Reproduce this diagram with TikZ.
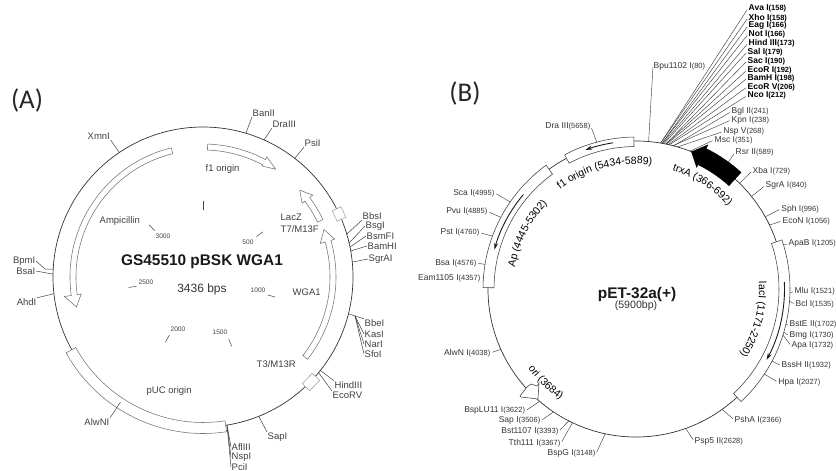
\documentclass[tikz,border=0pt]{standalone}
\usepackage{fontspec}
\setmainfont{Liberation Sans}
\newfontfamily\panelfont{Carlito}
\usetikzlibrary{arrows.meta,decorations.text}

\newcommand{\bpnum}[1]{{\fontsize{7.5}{9}\selectfont(#1)}}
\newcommand{\ringband}[5]{\draw[#1] (#2:#4) arc[start angle=#2,end angle=#3,radius=#4] -- (#3:#5)
  arc[start angle=#3,end angle=#2,radius=#5] -- cycle;}
\newcommand{\ringarrow}[8]{\draw[#1] (#2:#5) arc[start angle=#2,end angle=#3,radius=#5] -- (#3:#7)
  -- (#4:{(#5+#6)/2}) -- (#3:#8) -- (#3:#6) arc[start angle=#3,end angle=#2,radius=#6] -- cycle;}

\begin{document}
\begin{tikzpicture}[
  x=1pt, y=-1pt,
  ringA/.style={shift={(203,277)}, y=1pt},
  ringB/.style={shift={(636,289)}, y=1pt},
  panel/.style={font=\panelfont\fontsize{27}{30}\selectfont, text=black!85},
  title/.style={font=\bfseries\fontsize{15.4}{18}\selectfont, text=black!90},
  sizelab/.style={font=\fontsize{12}{14}\selectfont, text=black!80},
  feat/.style={font=\fontsize{9.5}{11}\selectfont, text=black!75, inner sep=0.5pt},
  sitelab/.style={font=\fontsize{9.5}{11}\selectfont, text=black!75, inner sep=0.5pt},
  sitelabB/.style={font=\fontsize{8.5}{10}\selectfont, text=black!80, inner sep=0.5pt},
  boldlab/.style={font=\bfseries\fontsize{8.5}{10}\selectfont, text=black, inner sep=0.5pt},
  numlab/.style={font=\fontsize{6.6}{8}\selectfont, text=black!75},
  leader/.style={draw=black!75, line width=0.5pt},
  leaderB/.style={draw=black!75, line width=0.45pt, shorten >=1.5pt},
  tick/.style={draw=black!75, line width=0.5pt},
  ring/.style={draw=black!80, line width=0.7pt},
  band/.style={draw=black!55, fill=white, line width=0.55pt},
  bandB/.style={draw=black!75, fill=white, line width=0.55pt},
  gate/.style={draw=black!35, fill=white, line width=0.6pt, inner sep=0pt},
  inarr/.style={-{Stealth[length=7pt,width=4pt]}, line width=0.9pt, draw=black!90}
]
\useasboundingbox (0,0) rectangle (836,471);

%% ── Panel letters ──────────────────────────────────────────────
\node[panel] (panelA) at (27,100) {(A)};
\node[panel] (panelB) at (465,93) {(B)};

%% ── Plasmid A ──────────────────────────────────────────────────
\draw[ring, ringA] (0,0) circle[radius=150];

\ringarrow{band, ringA}{103.8}{188}{193.3}{127}{133}{123}{140}
\ringarrow{band, ringA}{88}{62}{56}{127}{133}{125.7}{136}
\ringarrow{band, ringA}{25.6}{36.7}{41.9}{127}{133}{123.6}{137}
\ringarrow{band, ringA}{-38.2}{16}{21.4}{127}{133}{122}{137}
\ringband{band, ringA}{209}{278.7}{145.5}{156.5}

\node[gate, rotate=25, minimum width=9.7pt, minimum height=11.5pt] (gateF) at (339,214) {};
\node[gate, rotate=-44, minimum width=10.3pt, minimum height=14.4pt] (gateR) at (311,382) {};

\node[title] (nameA) at (202,262) {GS45510 pBSK WGA1};
\node[sizelab] (sizeA) at (202,289) {3436 bps};

\node[feat, anchor=west] (ampA) at (99,221) {Ampicillin};
\node[feat, anchor=west] (f1A) at (205,169) {f1 origin};
\node[feat, anchor=west] (lacA) at (280,217) {LacZ};
\node[feat, anchor=west] (t7A) at (280,229) {T7/M13F};
\node[feat, anchor=west] (wgaA) at (292,292) {WGA1};
\node[feat, anchor=west] (t3A) at (256,364) {T3/M13R};
\node[feat, anchor=west] (pucA) at (146,391) {pUC origin};

% scale marks
\foreach \ang/\num/\lx/\ly in {136/3000/163/236, 188/2500/146/282, 240/2000/178/329,
                               -67.5/1500/220/332, -15.5/1000/258/290, 37/500/248/242}{
  \node[numlab] (n\num) at (\lx,\ly) {\num};
  \draw[tick, ringA] (\ang:67) -- (\ang:75);
}
\draw[tick, ringA] (90:67) -- (90:76);

% sites of A
\foreach \id/\txt/\lx/\ly/\anc/\att/\ang in {
  xmn/XmnI/87/136/west/south east/123.9,
  ban/BanII/252/113/west/south west/73.4,
  dra/DraIII/272/124/west/south west/66,
  psi/PsiI/304/143/west/south west/52.3,
  bbs/BbsI/362/216/west/south west/16.6,
  bsg/BsgI/365/226/west/west/13.1,
  bsm/BsmFI/366/236/west/west/11.5,
  bam/BamHI/367/246/west/west/10,
  sgr/SgrAI/368/259/west/west/5.7,
  bbe/BbeI/364/323/west/north west/-14.2,
  hin/HindIII/334/385/west/north west/-38.5,
  eco/EcoRV/332/395/west/north west/-39.6,
  sap/SapI/267/437/west/north west/-68.2,
  afl/AflIII/231/447/west/west/-80.8,
  bsa/BsaI/36/271/east/east/178.9,
  ahd/AhdI/37/302/east/north east/186.4,
  alw/AlwNI/110/422/east/north east/236.6}{
  \node[sitelab, anchor=\anc] (\id) at (\lx,\ly) {\txt};
  \path[ringA] (\ang:150) coordinate (s\id);
  \draw[leader] (s\id) -- (\id.\att);
}
\node[sitelab, anchor=west] (kas) at (364,334) {KasI};
\node[sitelab, anchor=west] (nar) at (364,344) {NarI};
\node[sitelab, anchor=west] (sfo) at (364,354) {SfoI};
\coordinate (fanE) at (355,316);
\draw[leader] (fanE) -- (kas.west);
\draw[leader] (fanE) -- (nar.west);
\draw[leader] (fanE) -- (sfo.west);
\node[sitelab, anchor=west] (nsp) at (231,457) {NspI};
\node[sitelab, anchor=west] (pci) at (231,467) {PciI};
\draw[leader] (safl) -- (nsp.west);
\draw[leader] (safl) -- (pci.west);
\node[sitelab, anchor=east] (bpm) at (36,261) {BpmI};
\coordinate (bpmE) at (45,269);
\path[ringA] (177:150) coordinate (sbpm);
\draw[leader] (sbpm) -- (bpmE) -- (bpm.east);

%% ── Plasmid B ──────────────────────────────────────────────────
\draw[ring, ringB] (0,0) circle[radius=148];

\foreach \id/\txt/\lx/\ly/\ang in {
  ava/Ava I\bpnum{158}/748/8.5/80.4,
  xho/Xho I\bpnum{158}/748/17.7/80.4,
  eag/Eag I\bpnum{166}/748/25.7/79.9,
  not/Not I\bpnum{166}/748/34.3/79.9,
  hnd/Hind III\bpnum{173}/748/43.3/79.5,
  sal/Sal I\bpnum{179}/747/52/79.1,
  sac/Sac I\bpnum{190}/747/61/78.4,
  ecr/EcoR I\bpnum{192}/747/70/78.3,
  bmh/BamH I\bpnum{198}/747/78.3/78.1,
  ecv/EcoR V\bpnum{206}/747/87/77.4,
  nco/Nco I\bpnum{212}/747/95.7/77}{
  \node[boldlab, anchor=west] (\id) at (\lx,\ly) {\txt};
  \path[ringB] (\ang:148) coordinate (s\id);
  \draw[leaderB] (s\id) -- (\id.west);
}

\foreach \id/\txt/\lx/\ly/\anc/\ang in {
  bpu/Bpu1102 I\bpnum{80}/653/66/west/85.1,
  bgl/Bgl II\bpnum{241}/731/111.7/west/75.3,
  kpn/Kpn I\bpnum{238}/731/120/west/75.5,
  nsv/Nsp V\bpnum{268}/722.7/131.7/west/73.7,
  msc/Msc I\bpnum{351}/714/140/west/68.6,
  rsr/Rsr II\bpnum{589}/735/152.7/west/54,
  xba/Xba I\bpnum{729}/752/171/west/45.5,
  sga/SgrA I\bpnum{840}/765/185.7/west/38.7,
  sph/Sph I\bpnum{996}/780.7/209/west/29.2,
  ecn/EcoN I\bpnum{1056}/782/221/west/25.6,
  apb/ApaB I\bpnum{1205}/788/243.7/west/16.5,
  mlu/Mlu I\bpnum{1521}/794/291/west/-2.8,
  bcl/Bcl I\bpnum{1535}/795/304/west/-3.7,
  bst/BstE II\bpnum{1702}/789/324.7/west/-13.9,
  bmg/Bmg I\bpnum{1730}/789/335.7/west/-15.6,
  apa/Apa I\bpnum{1732}/791/345.7/west/-15.7,
  bsh/BssH II\bpnum{1932}/781/365.7/west/-27.9,
  hpa/Hpa I\bpnum{2027}/777.7/382/west/-33.7,
  psh/PshA I\bpnum{2366}/734/419.7/west/-54.4,
  psp/Psp5 II\bpnum{2628}/694/441/west/-70.4,
  dra3/Dra III\bpnum{5658}/591/126.7/east/104.8,
  sca/Sca I\bpnum{4995}/495/193/east/145.2,
  pvu/Pvu I\bpnum{4885}/488/211.7/east/151.9,
  pst/Pst I\bpnum{4760}/480/232.7/east/159.6,
  bsa5/Bsa I\bpnum{4576}/477/263/east/170.8,
  eam/Eam1105 I\bpnum{4357}/481/278/east/176.1,
  alw4/AlwN I\bpnum{4038}/491/352.7/east/204.1,
  blu/BspLU11 I\bpnum{3622}/525.7/410.7/east/229.4,
  sap3/Sap I\bpnum{3506}/541/420.7/east/236.1,
  bs11/Bst1107 I\bpnum{3393}/559/431/east/243,
  tth/Tth111 I\bpnum{3367}/561/443/east/244.6,
  bsg3/BspG I\bpnum{3148}/596/453.7/east/258}{
  \node[sitelabB, anchor=\anc] (\id) at (\lx,\ly) {\txt};
  \path[ringB] (\ang:148) coordinate (s\id);
  \draw[leaderB] (s\id) -- (\id.\anc);
}

\ringband{bandB, ringB}{118}{90.8}{142.5}{152}
\ringband{bandB, ringB}{126}{179.5}{142}{153}
\ringband{bandB, ringB}{18.6}{-47}{143}{154}
\ringarrow{draw=black, fill=black, ringB}{48}{63.5}{68}{139}{157}{136}{161}
\draw[bandB] (527,387) -- (531,384) -- (537,386) -- (539,383) -- (538,399) -- (521,397) -- (520,396) -- cycle;

\draw[inarr, ringB] (99:148) arc[start angle=99,end angle=110,radius=148];
\draw[inarr, ringB] (140:147) arc[start angle=140,end angle=164.5,radius=147];
\draw[inarr, ringB] (2.7:148.5) arc[start angle=2.7,end angle=-28.5,radius=148.5];

\node[title] (nameB) at (637,295) {pET-32a(+)};
\node[font=\fontsize{10.6}{12}\selectfont, text=black!80] (sizeB) at (636,306) {(5900bp)};

% names along the ring
\path[ringB, decorate, decoration={text along path, text align=center,
  text={|\fontsize{10.5}{12}\selectfont|f1 origin (5434-5889)}}]
  (128:125) arc[start angle=128,end angle=82,radius=125];
\path[ringB, decorate, decoration={text along path, text align=center,
  text={|\fontsize{10.5}{12}\selectfont|trxA (366-692)}}]
  (74:124) arc[start angle=74,end angle=41,radius=124];
\path[ringB, decorate, decoration={text along path, text align=center,
  text={|\fontsize{10.5}{12}\selectfont|lacI (1171-2250)}}]
  (4:123) arc[start angle=4,end angle=-33,radius=123];
\path[ringB, decorate, decoration={text along path, text align=center,
  text={|\fontsize{10.5}{12}\selectfont|Ap (4445-5302)}}]
  (171:123) arc[start angle=171,end angle=135,radius=123];
\path[ringB, decorate, decoration={text along path, text align=center,
  text={|\fontsize{10.5}{12}\selectfont|ori (3684)}}]
  (213:134) arc[start angle=213,end angle=239,radius=134];

\end{tikzpicture}
\end{document}
